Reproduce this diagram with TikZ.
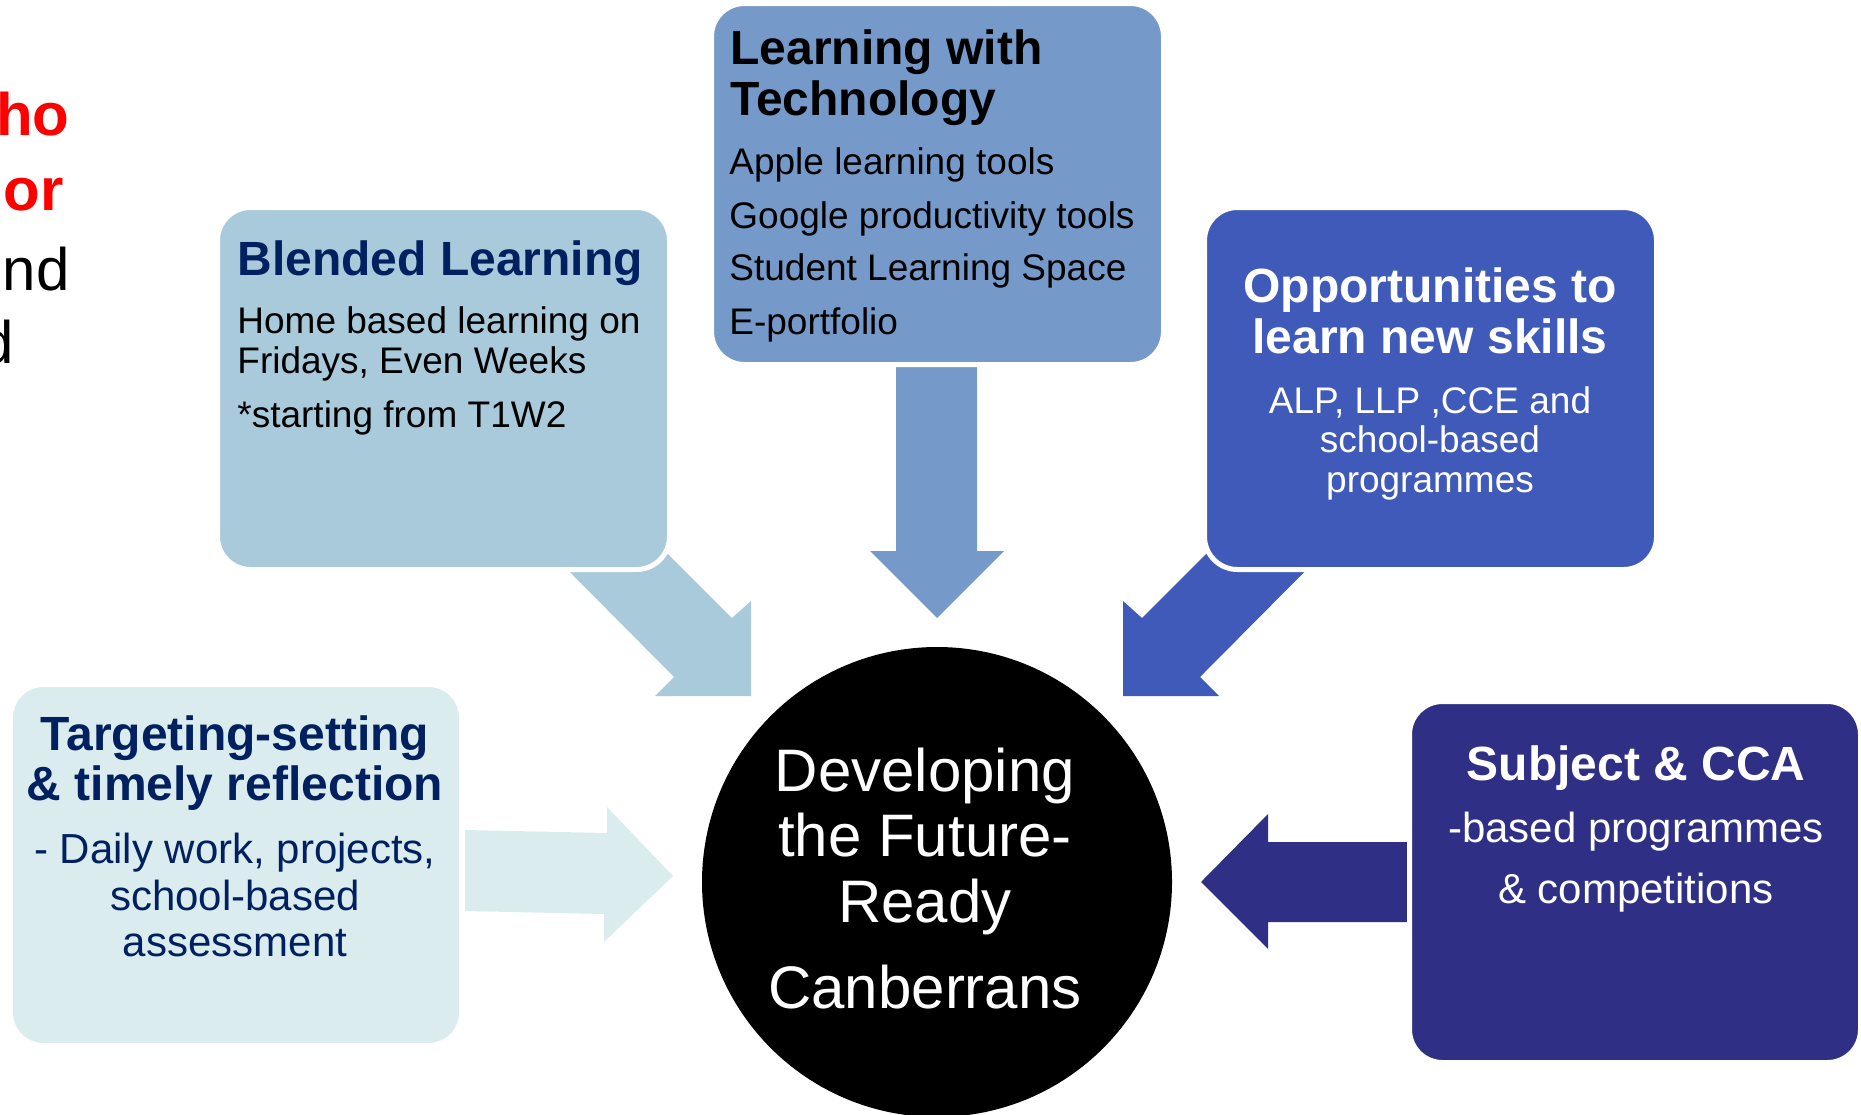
\documentclass[tikz,border=0pt]{standalone}
\usepackage{fontspec}
\setmainfont{Liberation Sans}
\definecolor{blendedc}{HTML}{A9CADB}
\definecolor{techc}{HTML}{7599C9}
\definecolor{oppc}{HTML}{405ABA}
\definecolor{targc}{HTML}{DAECEE}
\definecolor{subjc}{HTML}{2F3085}
\definecolor{navy}{HTML}{002060}
\definecolor{redc}{HTML}{FF0000}
\begin{document}
\begin{tikzpicture}[x=0.5pt,y=-0.5pt,
  box/.style={rectangle, rounded corners=16.5pt, draw=white, line width=2.5pt, inner sep=0pt},
  ln/.style={inner sep=0pt, anchor=base west},
  lc/.style={inner sep=0pt, anchor=base},
  le/.style={inner sep=0pt, anchor=base east},
  ttl/.style={font=\fontsize{24}{28}\selectfont\bfseries},
  bodyA/.style={font=\fontsize{18.5}{22}\selectfont},
  bodyB/.style={font=\fontsize{21}{25}\selectfont},
  bodyC/.style={font=\fontsize{30}{34}\selectfont},
  side/.style={font=\fontsize{30}{34}\selectfont},
  sideb/.style={font=\fontsize{30}{34}\selectfont\bfseries},
]
\useasboundingbox (0,0) rectangle (1861,1114);

% left cut-off fragments
\node[le,sideb,text=redc] (f1) at (70,135) {ho};
\node[le,sideb,text=redc] (f2) at (64,210) {or};
\node[le,side] (f3) at (70,290) {nd};
\node[le,side] (f4) at (14,363) {d};

% block arrows
\fill[blendedc] (600,486) -- (732,618) -- (751,601) -- (751,696) -- (655,696) -- (674,677) -- (540,542) -- cycle;
\fill[oppc] (1274,486) -- (1142,618) -- (1123,601) -- (1123,696) -- (1219,696) -- (1200,677) -- (1334,542) -- cycle;
\fill[techc] (896,340) -- (896,551) -- (870,551) -- (937,618) -- (1004,551) -- (977,551) -- (977,340) -- cycle;
\fill[targc] (465,830) -- (607,833) -- (607,807) -- (673,876) -- (604,942) -- (604,914) -- (465,911) -- cycle;
\fill[subjc] (1201,882) -- (1268,814) -- (1268,842) -- (1407,842) -- (1407,922) -- (1268,922) -- (1268,949) -- cycle;

% boxes
\node[box, fill=blendedc, minimum width=226pt, minimum height=181pt] (blended) at (443.5,388.5) {};
\node[box, fill=techc, minimum width=226pt, minimum height=180.5pt] (tech) at (937.5,184) {};
\node[box, fill=oppc, minimum width=226pt, minimum height=181pt] (opp) at (1430.5,388.5) {};
\node[box, fill=targc, minimum width=225.5pt, minimum height=180.5pt] (targ) at (236,865) {};
\node[box, fill=subjc, minimum width=225.5pt, minimum height=180.5pt] (subj) at (1635,882) {};

% centre circle
\node[circle, fill=black, inner sep=0pt, minimum size=235pt] (centre) at (937,882) {};

% Blended Learning text
\node[ln,ttl,text=navy] (bl0) at (237,275) {Blended Learning};
\node[ln,bodyA] (bl1) at (237,333) {Home based learning on};
\node[ln,bodyA] (bl2) at (237,373) {Fridays, Even Weeks};
\node[ln,bodyA] (bl3) at (237,427) {*starting from T1W2};

% Learning with Technology text
\node[ln,ttl] (te0) at (730,64) {Learning with};
\node[ln,ttl] (te1) at (730,115) {Technology};
\node[ln,bodyA] (te2) at (729,174) {Apple learning tools};
\node[ln,bodyA] (te3) at (729,228) {Google productivity tools};
\node[ln,bodyA] (te4) at (729,280) {Student Learning Space};
\node[ln,bodyA] (te5) at (729,334) {E-portfolio};

% Opportunities text
\node[lc,ttl,text=white] (op0) at (1430,302) {Opportunities to};
\node[lc,ttl,text=white] (op1) at (1430,353) {learn new skills};
\node[lc,bodyA,text=white] (op2) at (1430,413) {ALP, LLP ,CCE and};
\node[lc,bodyA,text=white] (op3) at (1430,452) {school-based};
\node[lc,bodyA,text=white] (op4) at (1430,492) {programmes};

% Targeting text
\node[lc,ttl,text=navy] (ta0) at (235,750) {Targeting-setting};
\node[lc,ttl,text=navy] (ta1) at (235,800) {\& timely reflection};
\node[lc,bodyB,text=navy] (ta2) at (235,863) {- Daily work, projects,};
\node[lc,bodyB,text=navy] (ta3) at (235,910) {school-based};
\node[lc,bodyB,text=navy] (ta4) at (235,956) {assessment};

% Subject text
\node[lc,ttl,text=white] (su0) at (1636,780) {Subject \& CCA};
\node[lc,bodyB,text=white] (su1) at (1636,842) {-based programmes};
\node[lc,bodyB,text=white] (su2) at (1636,903) {\& competitions};

% Circle text
\node[lc,bodyC,text=white] (c0) at (925,791) {Developing};
\node[lc,bodyC,text=white] (c1) at (925,856) {the Future-};
\node[lc,bodyC,text=white] (c2) at (925,922) {Ready};
\node[lc,bodyC,text=white] (c3) at (925,1008) {Canberrans};
\end{tikzpicture}
\end{document}
